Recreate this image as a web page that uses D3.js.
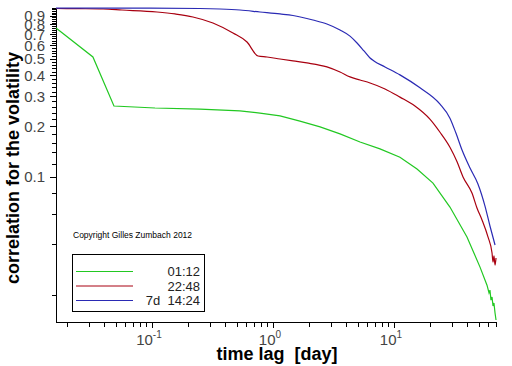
<!DOCTYPE html>
<html>
<head>
<meta charset="utf-8">
<script src="https://cdn.jsdelivr.net/npm/d3@7"></script>
<style>
  body { margin: 0; background: #fff; }
  svg text { font-family: "Liberation Sans", Arial, sans-serif; }
</style>
</head>
<body>
<div id="chart"></div>
<script>
// series: lag in days, correlation
const lag0112 = [0.0161, 0.0325, 0.0485, 0.106, 0.249, 0.533, 0.781, 1.143, 1.67, 2.45, 3.58, 5.24, 7.66, 11.2, 15.5, 21.0, 29.0, 40.1, 51.4, 58.7, 61.0, 62.1, 63.3, 64.6, 65.8, 67.0, 68.4, 69.7];
const corr0112 = [0.762, 0.513, 0.263, 0.256, 0.252, 0.246, 0.239, 0.230, 0.214, 0.198, 0.180, 0.161, 0.1466, 0.131, 0.1115, 0.0921, 0.0664, 0.0442, 0.0293, 0.0229, 0.0206, 0.0214, 0.0187, 0.0195, 0.01725, 0.01796, 0.01567, 0.01425];

const lag2248 = [0.0161, 0.0254, 0.0394, 0.0565, 0.110, 0.155, 0.218, 0.319, 0.467, 0.610, 0.752, 0.892, 1.143, 1.463, 1.91, 2.79, 3.58, 4.33, 5.24, 6.34, 8.43, 11.2, 14.9, 19.8, 24.0, 29.0, 33.2, 37.2, 44.1, 48.5, 53.4, 59.8, 64.6, 65.8, 67.0, 68.4, 69.7];
const corr2248 = [0.9932, 0.9906, 0.9864, 0.973, 0.947, 0.922, 0.885, 0.815, 0.711, 0.629, 0.520, 0.513, 0.499, 0.486, 0.473, 0.448, 0.418, 0.391, 0.375, 0.360, 0.332, 0.297, 0.263, 0.220, 0.184, 0.150, 0.123, 0.100, 0.0804, 0.0656, 0.0557, 0.0442, 0.0355, 0.0314, 0.0341, 0.0301, 0.0332];

const lag7d = [0.0161, 0.0963, 0.249, 0.365, 0.533, 0.781, 1.143, 1.463, 2.14, 2.79, 3.58, 4.33, 4.95, 5.65, 6.34, 6.83, 8.43, 11.2, 16.4, 24.0, 29.0, 32.5, 36.5, 42.5, 49.4, 56.5, 62.1, 68.4];
const corr7d = [0.998, 0.998, 0.9932, 0.9864, 0.973, 0.947, 0.922, 0.903, 0.849, 0.804, 0.741, 0.682, 0.621, 0.557, 0.506, 0.486, 0.448, 0.402, 0.337, 0.270, 0.223, 0.182, 0.1445, 0.113, 0.0910, 0.0673, 0.0513, 0.0396];

const seriesNames = ["01:12", "22:48", "7d  14:24"];
const seriesColors = ["#22c822", "#a80010", "#2a2ab4"];

const yTickLabels = [0.1, 0.2, 0.3, 0.4, 0.5, 0.6, 0.7, 0.8, 0.9];
const xTickLabels = [0.1, 1, 10];

const width = 512, height = 366;

const svg = d3.select("#chart").append("svg")
  .attr("width", width)
  .attr("height", height);

const x = d3.scaleLog().domain([0.0161, 71]).range([56, 497]);
const y = d3.scaleLog().domain([0.01387, 1]).range([322, 8]);

// y ticks every 0.02, labelled every 0.1
const yMinor = d3.range(1, 51).map(i => i * 0.02).filter(v => v >= 0.0139 && v <= 1.0001);
svg.append("g").selectAll("line")
  .data(yMinor)
  .join("line")
  .attr("x1", d => yTickLabels.some(t => Math.abs(t - d) < 1e-6) ? 50 : 52)
  .attr("x2", 56)
  .attr("y1", d => Math.round(y(d)) + 0.5)
  .attr("y2", d => Math.round(y(d)) + 0.5)
  .attr("stroke", "#000");

svg.append("g").selectAll("text")
  .data(yTickLabels)
  .join("text")
  .attr("x", 45)
  .attr("y", d => y(d))
  .attr("dy", "0.36em")
  .attr("text-anchor", "end")
  .attr("font-size", 15)
  .attr("fill", "#444")
  .text(d => d.toString());

// x ticks 1..9 per decade
const xMinor = [];
[0.01, 0.1, 1, 10].forEach(dec => d3.range(1, 10).forEach(k => xMinor.push(dec * k)));
svg.append("g").selectAll("line")
  .data(xMinor.filter(v => v >= 0.0161 && v <= 71))
  .join("line")
  .attr("x1", d => Math.round(x(d)) + 0.5)
  .attr("x2", d => Math.round(x(d)) + 0.5)
  .attr("y1", 322)
  .attr("y2", d => xTickLabels.includes(d) ? 328 : 327)
  .attr("stroke", "#000");

const xl = svg.append("g").selectAll("text")
  .data(xTickLabels)
  .join("text")
  .attr("x", d => x(d) - 3)
  .attr("y", 345)
  .attr("text-anchor", "middle")
  .attr("font-size", 15)
  .attr("fill", "#444");
xl.append("tspan").text("10");
xl.append("tspan").attr("dy", -7).attr("font-size", 10).text(d => Math.round(Math.log10(d)).toString());

// axis lines
svg.append("line").attr("x1", 56.5).attr("x2", 56.5).attr("y1", 8).attr("y2", 322.5).attr("stroke", "#000");
svg.append("line").attr("x1", 56).attr("x2", 497).attr("y1", 322.5).attr("y2", 322.5).attr("stroke", "#000");

// curves
const series = [
  d3.zip(lag0112, corr0112),
  d3.zip(lag2248, corr2248),
  d3.zip(lag7d, corr7d)
];
const curves = [d3.curveLinear, d3.curveMonotoneX, d3.curveMonotoneX];
svg.append("g").selectAll("path")
  .data(series)
  .join("path")
  .attr("fill", "none")
  .attr("stroke", (d, i) => seriesColors[i])
  .attr("stroke-width", 1.2)
  .attr("d", (d, i) => d3.line().curve(curves[i]).x(p => x(p[0])).y(p => y(p[1]))(d));

// axis titles
svg.append("text")
  .attr("x", 277)
  .attr("y", 360)
  .attr("text-anchor", "middle")
  .attr("font-size", 18)
  .attr("font-weight", "bold")
  .attr("fill", "#000")
  .style("white-space", "pre")
  .text("time lag  [day]");

svg.append("text")
  .attr("transform", "translate(19,168) rotate(-90)")
  .attr("text-anchor", "middle")
  .attr("font-size", 18)
  .attr("font-weight", "bold")
  .attr("fill", "#000")
  .text("correlation for the volatility");

// copyright
svg.append("text")
  .attr("x", 73)
  .attr("y", 238)
  .attr("font-size", 8.5)
  .attr("fill", "#000")
  .text("Copyright Gilles Zumbach 2012");

// legend
const legend = svg.append("g");
legend.append("rect")
  .attr("x", 72.5).attr("y", 254.5)
  .attr("width", 132).attr("height", 57)
  .attr("fill", "#fff").attr("stroke", "#000");
const rows = legend.selectAll("g.row")
  .data(seriesNames)
  .join("g")
  .attr("class", "row")
  .attr("transform", (d, i) => `translate(0,${271 + i * 14.5})`);
rows.append("line")
  .attr("x1", 76).attr("x2", 133)
  .attr("y1", 0.5).attr("y2", 0.5)
  .attr("stroke", (d, i) => seriesColors[i]);
rows.append("text")
  .attr("x", 200)
  .attr("y", 5)
  .attr("text-anchor", "end")
  .attr("font-size", 13)
  .attr("fill", "#222")
  .style("white-space", "pre")
  .text(d => d);
</script>
</body>
</html>
